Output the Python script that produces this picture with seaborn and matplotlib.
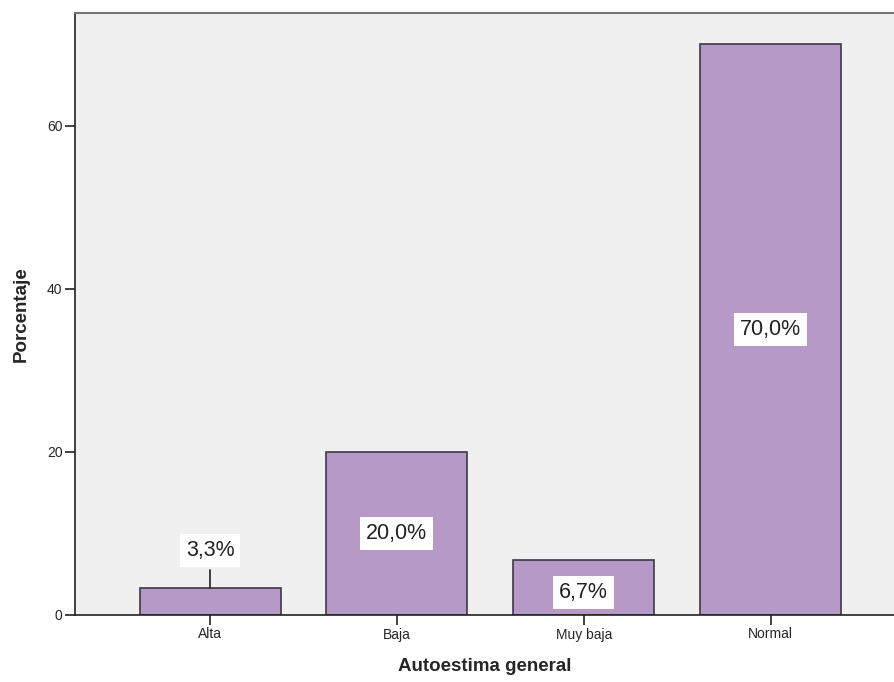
import matplotlib
matplotlib.use('Agg')
import matplotlib.pyplot as plt
import seaborn as sns
import pandas as pd

# data
categorias = ['Alta', 'Baja', 'Muy baja', 'Normal']
porcentajes = [3.3, 20.0, 6.7, 70.0]
etiquetas = ['3,3%', '20,0%', '6,7%', '70,0%']

df = pd.DataFrame({'Autoestima general': categorias, 'Porcentaje': porcentajes})

sns.set_style('ticks')
plt.rcParams['font.family'] = ['Liberation Sans', 'DejaVu Sans']

fig = plt.figure(figsize=(8.95, 6.82), dpi=100)
ax = fig.add_axes([75 / 895, 67 / 682, 820 / 895, 602 / 682])
ax.set_facecolor('#F0F0F0')

sns.barplot(data=df, x='Autoestima general', y='Porcentaje', color='#B799C8',
            saturation=1, width=0.755, edgecolor='#3C3A48', linewidth=1.2, ax=ax)

ax.set_xlim(-0.723, 3.666)
ax.set_ylim(0, 73.8)
ax.set_yticks([0, 20, 40, 60])

# percentage labels in white boxes
caja = dict(boxstyle='square,pad=0.28', facecolor='white', edgecolor='none')
for i, (v, txt) in enumerate(zip(porcentajes, etiquetas)):
    if v < 5:
        y = v + 4.6
        ax.plot([i, i], [v, v + 2.2], color='#222222', lw=1.2)
    else:
        y = v / 2
    if txt == '6,7%':
        y = 2.8
    ax.text(i, y, txt, ha='center', va='center', fontsize=15.5, color='#222222', bbox=caja)

ax.spines['right'].set_visible(False)
ax.spines['top'].set_color('#777777')
ax.spines['top'].set_linewidth(1.5)
for s in ['left', 'bottom']:
    ax.spines[s].set_color('#222222')
    ax.spines[s].set_linewidth(1.2)

ax.tick_params(axis='both', length=7, width=1.2, color='#222222', labelsize=10, pad=2)
ax.set_xlabel('Autoestima general', fontsize=13.5, fontweight='bold', labelpad=12)
ax.set_ylabel('Porcentaje', fontsize=13.5, fontweight='bold', labelpad=12)

fig.savefig('out.png', dpi=100, facecolor='white')
